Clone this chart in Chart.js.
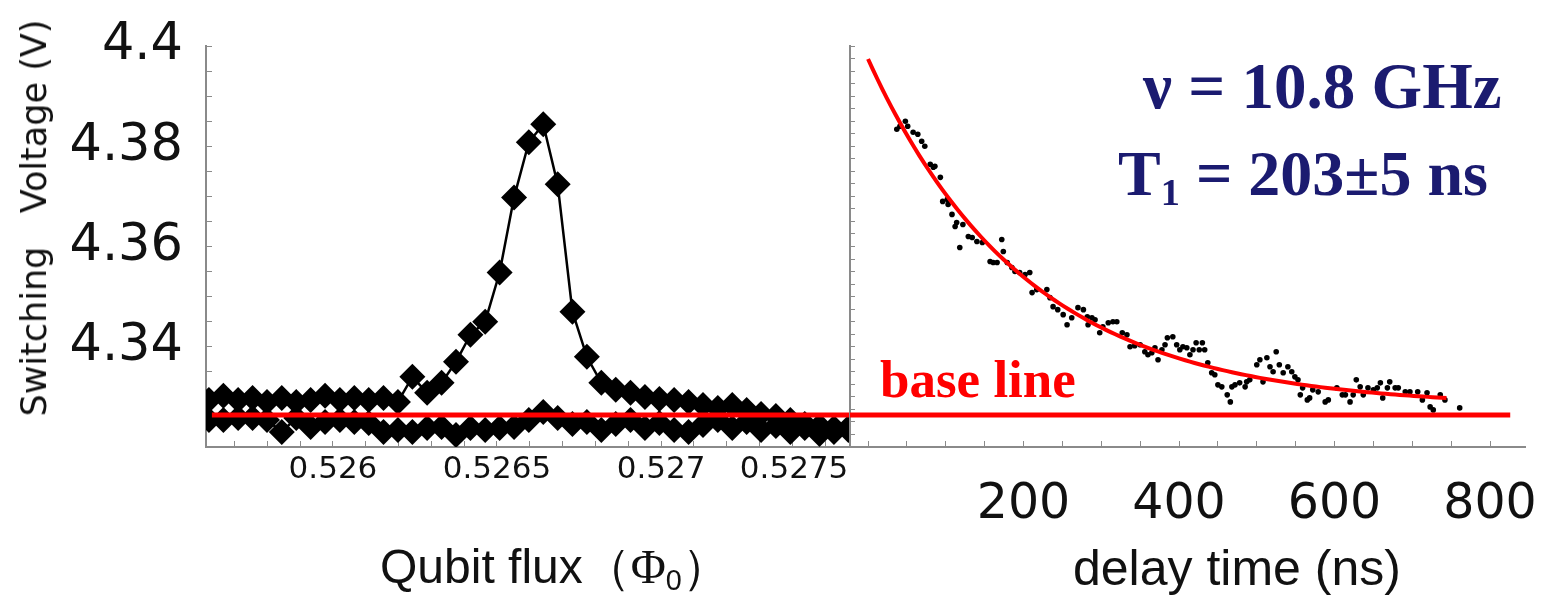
<!DOCTYPE html>
<html>
<head>
<meta charset="utf-8">
<script src="https://cdn.jsdelivr.net/npm/chart.js@4.4.1/dist/chart.umd.min.js"></script>
<style>
  body { margin: 0; background: #fff; }
  #wrap { position: relative; width: 1547px; height: 601px; overflow: hidden; background: #fff; }
  canvas { position: absolute; top: 0; }
  #fluxChart { left: 0; }
  #decayChart { left: 800px; }
  .txt { position: absolute; white-space: pre; line-height: 1; }
  .navy { color: #1b1b70; font-family: "Liberation Serif", "Times New Roman", serif; font-weight: bold; }
  #ytitle { left: 34px; top: 218px; transform: translate(-50%, -50%) rotate(-90deg); font: 35px "DejaVu Sans", sans-serif; color: #111; }
  .xtitle { top: 543px; font-family: "Liberation Sans", Arial, sans-serif; font-size: 50px; color: #111; }
  .serif { font-family: "Liberation Serif", serif; }
  sub { font-size: 0.6em; vertical-align: -0.25em; }
</style>
</head>
<body>
<div id="wrap">
  <canvas id="fluxChart" width="900" height="601"></canvas>
  <canvas id="decayChart" width="747" height="601"></canvas>
  <div id="ytitle" class="txt">Switching   Voltage (V)</div>
  <div class="txt xtitle" style="left:380px; font-size:48px">Qubit flux（<span class="serif">Φ</span><sub>0</sub>）</div>
  <div class="txt xtitle" style="left:1073px">delay time (ns)</div>
  <div class="txt navy" style="left:1143px; top:54px; font-size:65px">ν = 10.8 GHz</div>
  <div class="txt navy" style="left:1118px; top:142px; font-size:64px">T<sub>1</sub> = 203±5 ns</div>
  <div class="txt" style="left:880px; top:349px; color:#ff0000; font:bold 53px 'Liberation Serif', serif;">base line</div>
</div>
<script>
// resonance scan: qubit flux (Phi0) vs switching voltage (V)
const flux = [0.525622, 0.525666, 0.525711, 0.525755, 0.525799, 0.525844, 0.525888, 0.525932, 0.525976,
  0.526021, 0.526065, 0.526109, 0.526154, 0.526198, 0.526242, 0.526287, 0.526331, 0.526375, 0.526419,
  0.526464, 0.526508, 0.526552, 0.526597, 0.526641, 0.526685, 0.526730, 0.526774, 0.526818, 0.526862,
  0.526907, 0.526951, 0.526995, 0.527040, 0.527084, 0.527128, 0.527173, 0.527217, 0.527261, 0.527305,
  0.527350, 0.527394, 0.527438, 0.527483, 0.527527, 0.527571];
const peakVolt = [4.3294, 4.3302, 4.3294, 4.3298, 4.3290, 4.3298, 4.3290, 4.3294, 4.3302, 4.3294,
  4.3298, 4.3294, 4.3298, 4.3290, 4.3340, 4.3308, 4.3328, 4.3370, 4.3424, 4.3450,
  4.3548, 4.3698, 4.3808, 4.3844, 4.3724, 4.3470, 4.3380, 4.3328, 4.3314, 4.3308,
  4.3300, 4.3296, 4.3294, 4.3290, 4.3284, 4.3278, 4.3284, 4.3274, 4.3266, 4.3262,
  4.3254, 4.3246, 4.3242, 4.3238, 4.3234];
const flatVolt = [4.3254, 4.3254, 4.3258, 4.3258, 4.3254, 4.3230, 4.3258, 4.3240, 4.3250, 4.3254,
  4.3250, 4.3248, 4.3230, 4.3234, 4.3230, 4.3238, 4.3240, 4.3224, 4.3238, 4.3234,
  4.3238, 4.3240, 4.3254, 4.3270, 4.3258, 4.3246, 4.3250, 4.3234, 4.3246, 4.3254,
  4.3238, 4.3248, 4.3234, 4.3230, 4.3244, 4.3254, 4.3238, 4.3250, 4.3234, 4.3242,
  4.3230, 4.3238, 4.3226, 4.3230, 4.3238];

// T1 decay: delay (ns) vs switching voltage (V)
const delayNs = [37, 41, 48, 51, 58, 64, 69, 73, 80, 84, 86, 93, 96, 102, 103, 108, 112, 114, 118, 122,
  129, 134, 140, 147, 157, 161, 166, 172, 174, 179, 185, 189, 195, 202, 208, 211, 217, 230, 234, 238,
  244, 251, 256, 262, 270, 277, 282, 283, 288, 292, 298, 302, 309, 315, 320, 327, 333, 337, 343, 350,
  356, 360, 365, 369, 373, 378, 382, 385, 392, 397, 401, 405, 410, 414, 418, 422, 426, 430, 433, 437,
  442, 446, 450, 455, 462, 466, 468, 472, 478, 485, 487, 491, 500, 504, 508, 513, 517, 521, 525, 529,
  534, 540, 545, 549, 553, 556, 559, 565, 568, 572, 579, 588, 592, 603, 610, 614, 620, 624, 628, 633,
  637, 643, 650, 655, 659, 662, 668, 671, 678, 682, 691, 697, 707, 713, 719, 723, 727, 736, 742, 761];
const decayVolt = [4.3834, 4.3840, 4.3850, 4.3840, 4.3828, 4.3824, 4.3810, 4.3800, 4.3764, 4.3758,
  4.3760, 4.3738, 4.3690, 4.3694, 4.3684, 4.3664, 4.3640, 4.3648, 4.3598, 4.3644,
  4.3620, 4.3618, 4.3610, 4.3608, 4.3570, 4.3568, 4.3568, 4.3614, 4.3590, 4.3568,
  4.3558, 4.3550, 4.3548, 4.3544, 4.3548, 4.3508, 4.3514, 4.3514, 4.3498, 4.3480,
  4.3474, 4.3464, 4.3444, 4.3458, 4.3478, 4.3474, 4.3460, 4.3444, 4.3458, 4.3454,
  4.3428, 4.3440, 4.3448, 4.3450, 4.3450, 4.3428, 4.3424, 4.3400, 4.3402, 4.3404,
  4.3390, 4.3384, 4.3388, 4.3398, 4.3374, 4.3394, 4.3404, 4.3418, 4.3420, 4.3404,
  4.3394, 4.3400, 4.3398, 4.3384, 4.3394, 4.3408, 4.3394, 4.3408, 4.3394, 4.3368,
  4.3348, 4.3344, 4.3324, 4.3320, 4.3304, 4.3290, 4.3320, 4.3324, 4.3328, 4.3320,
  4.3330, 4.3334, 4.3364, 4.3374, 4.3330, 4.3378, 4.3360, 4.3350, 4.3390, 4.3364,
  4.3348, 4.3360, 4.3350, 4.3340, 4.3334, 4.3304, 4.3318, 4.3294, 4.3298, 4.3314,
  4.3310, 4.3290, 4.3294, 4.3318, 4.3304, 4.3304, 4.3290, 4.3304, 4.3334, 4.3320,
  4.3304, 4.3318, 4.3314, 4.3318, 4.3328, 4.3298, 4.3318, 4.3330, 4.3318, 4.3318,
  4.3310, 4.3310, 4.3310, 4.3294, 4.3308, 4.3280, 4.3274, 4.3304, 4.3294, 4.3278];

// exponential fit, T1 = 203 ns
const T1 = 203;
const fitAmp = 0.0694;
const fitOffset = 4.328;
const fitEndNs = 746;

const baseVolt = 4.3264;

const fluxTickLabels = [0.526, 0.5265, 0.527, 0.5275];
const voltTickLabels = [4.34, 4.36, 4.38, 4.4];
const delayTickLabels = [200, 400, 600, 800];

const axisGray = "#8a8a8a";
const red = "#ff0000";

function pickLabel(list, v, eps) {
  const hit = list.find(l => Math.abs(l - v) < eps);
  return hit === undefined ? "" : String(hit);
}

// keep the layout from growing around tick labels: the plot boxes are fixed
function fixY(width) {
  return s => { s.width = width; s.paddingTop = 0; s.paddingBottom = 0; };
}
function fixX(height) {
  return s => { s.height = height; s.paddingLeft = 0; s.paddingRight = 0; };
}

const fitPoints = [];
for (let t = 0; t <= fitEndNs; t += 6) {
  fitPoints.push({ x: t, y: fitOffset + fitAmp * Math.exp(-t / T1) });
}

const common = {
  responsive: false,
  animation: false,
  events: [],
  plugins: { legend: { display: false }, tooltip: { enabled: false } }
};

new Chart(document.getElementById("fluxChart"), {
  type: "scatter",
  data: {
    datasets: [
      {
        label: "base line",
        data: [{ x: 0.525631, y: baseVolt }, { x: 0.527576, y: baseVolt }],
        showLine: true, borderColor: red, borderWidth: 5, pointRadius: 0, order: 0
      },
      {
        label: "resonance",
        data: flux.map((x, i) => ({ x, y: peakVolt[i] })),
        showLine: true, borderColor: "#000", borderWidth: 2.5,
        pointStyle: "rectRot", pointRadius: 13, backgroundColor: "#000", pointBorderWidth: 0, order: 1
      },
      {
        label: "off resonance",
        data: flux.map((x, i) => ({ x, y: flatVolt[i] })),
        showLine: true, borderColor: "#000", borderWidth: 2.5,
        pointStyle: "rectRot", pointRadius: 13, backgroundColor: "#000", pointBorderWidth: 0, order: 2
      }
    ]
  },
  options: {
    ...common,
    layout: { padding: { top: 46, right: 50, left: 0, bottom: 0 } },
    scales: {
      x: {
        type: "linear", min: 0.525613, max: 0.527576,
        border: { color: axisGray, width: 2 },
        grid: { drawOnChartArea: false, tickLength: -6, color: axisGray, tickWidth: 1 },
        ticks: {
          stepSize: 0.0001, includeBounds: false, autoSkip: false, maxRotation: 0, padding: 10,
          color: "#111", font: { family: "DejaVu Sans", size: 31 },
          // the last label sits left of its tick so it stays inside the panel
          callback: v => {
            const s = pickLabel(fluxTickLabels, v, 1e-8);
            return s === "0.5275" ? s + "\u2003\u2003" : s;
          }
        },
        afterFit: fixX(154)
      },
      y: {
        type: "linear", min: 4.32, max: 4.40,
        border: { color: axisGray, width: 2 },
        grid: { drawOnChartArea: false, tickLength: -6, color: axisGray, tickWidth: 1 },
        ticks: {
          stepSize: 0.005, includeBounds: false, autoSkip: false, padding: 29,
          color: "#111", font: { family: "DejaVu Sans", size: 51 },
          callback: v => pickLabel(voltTickLabels, v, 1e-6)
        },
        afterFit: fixY(206)
      }
    }
  }
});

new Chart(document.getElementById("decayChart"), {
  type: "scatter",
  data: {
    datasets: [
      {
        label: "base line",
        data: [{ x: -23.2, y: baseVolt }, { x: 826, y: baseVolt }],
        showLine: true, borderColor: red, borderWidth: 5, pointRadius: 0, order: 0
      },
      {
        label: "fit",
        data: fitPoints,
        showLine: true, borderColor: red, borderWidth: 4, pointRadius: 0, order: 1
      },
      {
        label: "decay",
        data: delayNs.map((x, i) => ({ x, y: decayVolt[i] })),
        pointRadius: 2.8, backgroundColor: "#000", pointBorderWidth: 0, order: 2
      }
    ]
  },
  options: {
    ...common,
    layout: { padding: { top: 46, right: 22, left: 0, bottom: 0 } },
    scales: {
      x: {
        type: "linear", min: -23.2, max: 845,
        border: { color: axisGray, width: 2 },
        grid: { drawOnChartArea: false, tickLength: -6, color: axisGray, tickWidth: 1 },
        ticks: {
          stepSize: 50, includeBounds: false, autoSkip: false, maxRotation: 0, padding: 35,
          color: "#111", font: { family: "DejaVu Sans", size: 49 },
          callback: v => pickLabel(delayTickLabels, v, 1e-6)
        },
        afterFit: fixX(154)
      },
      y: {
        type: "linear", min: 4.32, max: 4.40,
        border: { color: axisGray, width: 2 },
        grid: { drawOnChartArea: false, tickLength: -5, color: axisGray, tickWidth: 1 },
        ticks: { stepSize: 0.0025, includeBounds: false, autoSkip: false, display: false },
        afterFit: fixY(50)
      }
    }
  }
});
</script>
</body>
</html>
